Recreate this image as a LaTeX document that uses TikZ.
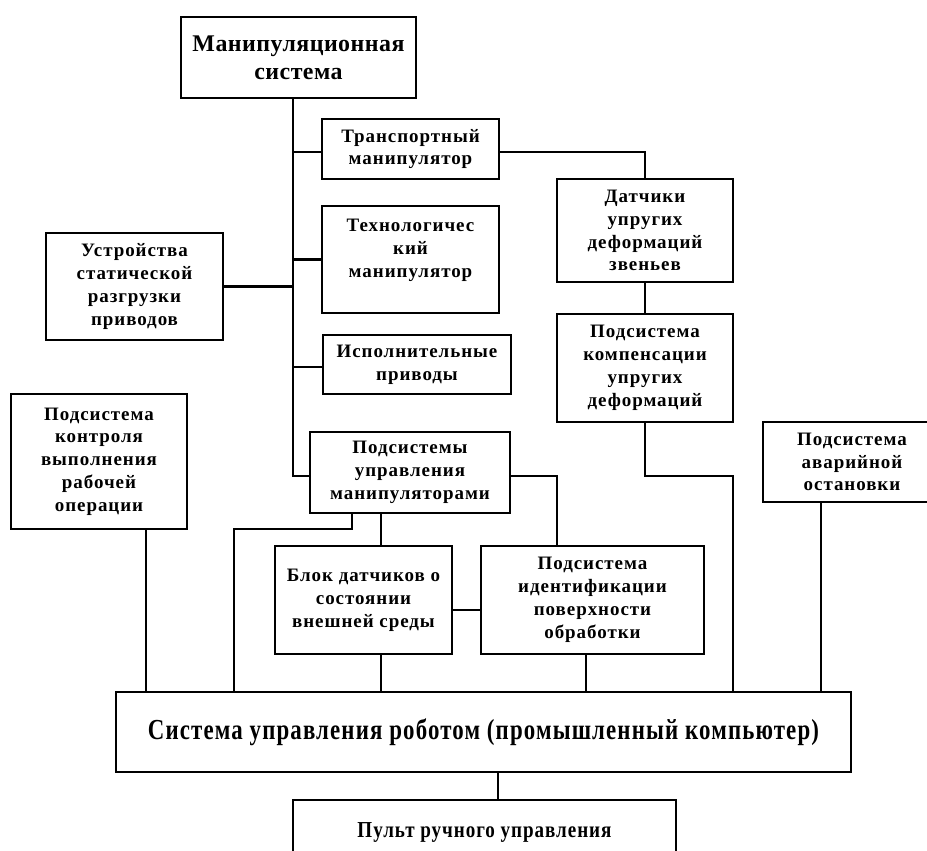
\documentclass[tikz,border=0pt]{standalone}
\usepackage{fontspec}
\setmainfont{Liberation Serif}
\usepackage{graphicx}
\newcommand\boxfont{\fontsize{10.8}{13}\selectfont\bfseries\addfontfeature{LetterSpace=5}}
\newcommand\headfont{\fontsize{13.6}{15.9}\selectfont\bfseries\addfontfeature{LetterSpace=2}}
\newcommand\sysfont{\fontsize{16.5}{18}\selectfont\bfseries}
\newcommand\pultfont{\fontsize{13}{15}\selectfont\bfseries}
\tikzset{
  bx/.style 2 args={draw, line width=1.35pt, inner sep=0pt, align=center, font=\boxfont,
    minimum width=#1*0.02cm, minimum height=#2*0.02cm},
  wire/.style={line width=1.35pt}
}
\begin{document}
\begin{tikzpicture}[x=0.02cm,y=-0.02cm]
\useasboundingbox (0,0) rectangle (927,851);
\clip (0,0) rectangle (927,851);
\fill[white] (0,0) rectangle (927,851);
% boxes
\node[bx={235}{81}, font=\headfont] (man) at (298.5,57.5) {Манипуляционная\\система};
\node[bx={177}{60}] (trans) at (410.5,149) {Транспортный\\манипулятор};
\node[bx={177}{107}] (tech) at (410.5,259.5) {Технологичес\\кий\\манипулятор\\~};
\node[bx={177}{107}] (ustr) at (134.5,286.5) {Устройства\\статической\\разгрузки\\приводов};
\node[bx={188}{59}] (isp) at (417,364.5) {Исполнительные\\приводы};
\node[bx={176}{135}] (ctrl) at (99,461.5) {Подсистема\\контроля\\выполнения\\рабочей\\операции};
\node[bx={200}{81}] (upr) at (410,472.5) {Подсистемы\\управления\\манипуляторами};
\node[bx={176}{103}] (dat) at (645,230.5) {Датчики\\упругих\\деформаций\\звеньев};
\node[bx={176}{108}] (komp) at (645,368) {Подсистема\\компенсации\\упругих\\деформаций};
\node[bx={178}{80}] (avar) at (852,462) {Подсистема\\аварийной\\остановки};
\node[bx={177}{108}] (blok) at (363.5,600) {Блок датчиков о\\состоянии\\внешней среды};
\node[bx={223}{108}] (ident) at (592.5,600) {Подсистема\\идентификации\\поверхности\\обработки};
\node[bx={735}{80}] (sys) at (483.5,732) {\resizebox{382pt}{\height}{\sysfont Система управления роботом (промышленный компьютер)}};
\node[bx={383}{64}] (pult) at (484.5,832) {\resizebox{144.6pt}{\height}{\pultfont Пульт ручного управления}};
% helper coordinates
\coordinate (tr) at (293,0);
\coordinate (kb) at (733,476);
\coordinate (ia) at (557,0);
\coordinate (ua) at (352,529);
\coordinate (ub) at (234,529);
\coordinate (bx) at (381,0);
% connectors
\draw[wire] (tr |- man.south) -- (tr |- 0,476) -- (upr.west |- 0,476);
\draw[wire] (tr |- 0,152) -- (trans.west |- 0,152);
\draw[wire] (tr |- tech.west) -- (tech.west);
\draw[wire] (ustr.east) -- (tr |- ustr.east);
\draw[wire] (tr |- 0,367) -- (isp.west |- 0,367);
\draw[wire] (trans.east |- 0,152) -| (dat.north);
\draw[wire] (dat.south) -- (komp.north);
\draw[wire] (komp.south) |- (kb) -- (kb |- sys.north);
\draw[wire] (upr.east |- 0,476) -| (ia |- ident.north);
\draw[wire] (ua |- upr.south) -- (ua) -- (ub) -- (ub |- sys.north);
\draw[wire] (bx |- upr.south) -- (bx |- blok.north);
\draw[wire] (bx |- blok.south) -- (bx |- sys.north);
\draw[wire] (blok.east |- 0,610) -- (ident.west |- 0,610);
\draw[wire] (586,0 |- ident.south) -- (586,0 |- sys.north);
\draw[wire] (146,0 |- ctrl.south) -- (146,0 |- sys.north);
\draw[wire] (821,0 |- avar.south) -- (821,0 |- sys.north);
\draw[wire] (498,0 |- sys.south) -- (498,0 |- pult.north);
\end{tikzpicture}
\end{document}
